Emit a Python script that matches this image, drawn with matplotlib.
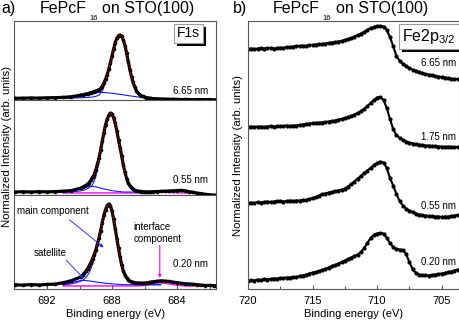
import numpy as np
import matplotlib
matplotlib.use('Agg')
import matplotlib.pyplot as plt
import matplotlib.patheffects as pe

plt.rcParams['font.family'] = ['Liberation Sans', 'DejaVu Sans']
plt.rcParams['mathtext.fontset'] = 'custom'
plt.rcParams['mathtext.rm'] = 'Liberation Sans'

# ---- F1s (panel a): energy grid, coarse tails and 0.1 eV steps over the peak
e_f1s = np.concatenate([np.linspace(694.0, 690.5, 8),
                        np.linspace(690.0, 685.5, 46),
                        np.linspace(685.25, 681.5, 16)])

f1s_665 = [0.0, 0.002, 0.005, 0.003, 0.008, 0.01, 0.015, 0.025,
           0.045, 0.05, 0.055, 0.06, 0.066, 0.072, 0.08, 0.089, 0.098, 0.107,
           0.116, 0.125, 0.135, 0.155, 0.19, 0.24, 0.30, 0.37, 0.46, 0.56,
           0.67, 0.78, 0.88, 0.95, 0.99, 1.0, 0.98, 0.92, 0.83, 0.71,
           0.58, 0.45, 0.34, 0.25, 0.18, 0.12, 0.08, 0.055, 0.04, 0.03,
           0.02, 0.012, 0.006, 0.002, 0.0, -0.005,
           -0.008, -0.01, -0.012, -0.015, -0.015, -0.018, -0.02, -0.018,
           -0.02, -0.022, -0.02, -0.02, -0.022, -0.02, -0.025, -0.02]
f1s_055 = [0.0, 0.003, 0.0, 0.004, 0.002, 0.005, 0.01, 0.018,
           0.045, 0.052, 0.062, 0.072, 0.085, 0.10, 0.12, 0.15, 0.185, 0.22,
           0.28, 0.35, 0.43, 0.53, 0.64, 0.75, 0.85, 0.92, 0.97, 1.0,
           0.99, 0.94, 0.87, 0.77, 0.66, 0.56, 0.45, 0.34, 0.25, 0.17,
           0.115, 0.08, 0.055, 0.035, 0.022, 0.015, 0.01, 0.008, 0.005, 0.004,
           0.003, 0.002, 0.0, 0.0, 0.002, 0.004,
           0.005, 0.008, 0.01, 0.012, 0.015, 0.018, 0.02, 0.015,
           0.005, -0.005, -0.015, -0.02, -0.03, -0.035, -0.04, -0.04]
f1s_020 = [0.0, -0.005, 0.002, -0.003, 0.003, 0.008, 0.025, 0.05,
           0.09, 0.1, 0.12, 0.145, 0.17, 0.2, 0.235, 0.275, 0.32, 0.37,
           0.43, 0.5, 0.58, 0.67, 0.77, 0.86, 0.93, 0.98, 1.0, 0.98,
           0.91, 0.81, 0.69, 0.57, 0.45, 0.34, 0.24, 0.17, 0.12, 0.085,
           0.06, 0.045, 0.035, 0.03, 0.025, 0.022, 0.02, 0.02, 0.018, 0.02,
           0.02, 0.022, 0.025, 0.028, 0.032, 0.036,
           0.042, 0.048, 0.045, 0.04, 0.032, 0.025, 0.018, 0.012,
           0.01, 0.005, 0.0, -0.005, -0.01, -0.008, -0.012, -0.01]

# fit components (blue), 691 -> 685 eV in 0.2 eV steps
e_fit = np.linspace(691.0, 685.0, 31)
main_665 = [0.0, 0.0, 0.002, 0.004, 0.006, 0.008, 0.01, 0.012, 0.015, 0.02,
            0.03, 0.05, 0.11, 0.25, 0.43, 0.66, 0.87, 0.99, 0.97, 0.82,
            0.57, 0.33, 0.17, 0.07, 0.03, 0.012, 0.004, 0.0, -0.005, -0.01,
            -0.012]
sat_665 = [0.0, 0.003, 0.008, 0.013, 0.019, 0.025, 0.033, 0.045, 0.058, 0.072,
           0.085, 0.095, 0.094, 0.09, 0.085, 0.079, 0.072, 0.065, 0.058, 0.05,
           0.042, 0.035, 0.028, 0.021, 0.014, 0.008, 0.002, -0.004, -0.008, -0.012,
           -0.015]
main_055 = [0.0, 0.0, 0.002, 0.004, 0.007, 0.012, 0.02, 0.033, 0.055, 0.09,
            0.19, 0.37, 0.6, 0.83, 0.97, 0.99, 0.87, 0.66, 0.45, 0.25,
            0.115, 0.055, 0.022, 0.01, 0.005, 0.003, 0.0, 0.0, 0.0, 0.0,
            0.0]
sat_055 = [0.0, 0.004, 0.01, 0.018, 0.028, 0.038, 0.05, 0.06, 0.068, 0.07,
           0.066, 0.055, 0.045, 0.035, 0.026, 0.018, 0.011, 0.006, 0.002, 0.0,
           0.0, 0.0, 0.0, 0.0, 0.0, 0.0, 0.0, 0.0, 0.0, 0.0,
           0.0]
main_020 = [0.0, 0.003, 0.008, 0.015, 0.025, 0.038, 0.055, 0.09, 0.15, 0.25,
            0.38, 0.55, 0.76, 0.92, 1.0, 0.91, 0.69, 0.45, 0.24, 0.12,
            0.06, 0.035, 0.02, 0.012, 0.008, 0.005, 0.003, 0.0, 0.0, 0.0,
            0.0]
sat_020 = [0.005, 0.012, 0.02, 0.03, 0.04, 0.048, 0.054, 0.052, 0.047, 0.041,
           0.035, 0.029, 0.024, 0.019, 0.015, 0.011, 0.008, 0.005, 0.002, 0.0,
           0.0, 0.0, 0.0, 0.0, 0.0, 0.0, 0.0, 0.0, 0.0, 0.0,
           0.0]

# interface component (magenta), 691 -> 682 eV in 0.5 eV steps
e_int = np.linspace(691.0, 682.0, 19)
int_055 = [-0.012, -0.012, -0.012, -0.012, -0.012, -0.012, -0.012, -0.012,
           -0.012, -0.012, -0.01, -0.005, -0.002, -0.006, -0.01, -0.012,
           -0.015, -0.022, -0.03]
int_020 = [-0.015, -0.015, -0.015, -0.015, -0.015, -0.015, -0.015, -0.015,
           -0.015, -0.015, -0.01, 0.01, 0.025, 0.01, -0.008, -0.015,
           -0.015, -0.015, -0.015]

labels_a = ['6.65 nm', '0.55 nm', '0.20 nm']
label_y_a = [0.12, 0.156, 0.26]

# ---- Fe2p3/2 (panel b), offset spectra, 0.25 eV steps
e_fe = np.linspace(720.0, 703.75, 66)
fe_665 = [240, 240.5, 240, 240.5, 241, 240.5, 241, 241, 240.5, 241,
          241.5, 241, 242, 242, 242.5, 243, 243, 243.5, 243, 244,
          244, 244.5, 245, 245, 245.5, 246, 246.5, 247, 247.5, 248,
          249, 250, 251, 252.5, 254, 255.5, 257, 259, 261, 262,
          263, 263, 262.5, 259, 252, 243, 233, 228, 225, 223,
          221, 219.5, 218, 217, 216, 215, 214.5, 214, 213, 212.5,
          212, 211.5, 211, 210.5, 210, 210]
fe_175 = [162, 162.5, 162, 162.5, 162.5, 162, 162.5, 163, 162.5, 163,
          163, 163, 163.5, 163, 163.5, 163.5, 164, 164.5, 165, 165.5,
          166, 166, 166.5, 166.5, 167, 167.5, 168, 168.5, 169.5, 170,
          171, 172, 173, 174.5, 176, 178, 180, 183, 186, 189,
          191.5, 192, 189, 181, 170, 160, 154, 151, 149, 147.5,
          146.5, 145.5, 145, 144.5, 144, 143.5, 143.5, 143, 143, 142.5,
          142.5, 142, 142.5, 142, 142, 142]
fe_055 = [86, 86.5, 86, 87, 86.5, 87, 87.5, 87, 87.5, 88,
          88, 87.5, 88, 88.5, 88, 88.5, 88.5, 89, 89, 90,
          91, 92, 93.5, 95, 95.5, 96.5, 97, 98, 98.5, 99.5,
          100.5, 102.5, 105, 107.5, 110.5, 113, 116, 118.5, 121, 124,
          126, 127.5, 126.5, 121, 111, 103.5, 95, 88, 83.5, 80.5,
          78.5, 77, 75.5, 74.5, 74, 73.5, 73, 73, 72.5, 72.5,
          72, 72.5, 72.5, 73, 73.5, 74]
fe_020 = [8.5, 9, 8.5, 9.5, 9, 10, 9.5, 10, 10.5, 10.5,
          11, 11, 11.5, 11.5, 12, 12, 13, 13.5, 14.5, 15.5,
          16.5, 17, 18, 19, 20, 21.5, 23, 24, 25.5, 27,
          28.5, 30, 31.5, 33, 34.5, 37, 41, 46, 51, 54,
          55.5, 56, 55.5, 51, 46, 42, 40, 39.5, 39, 35,
          27, 20, 16, 14.5, 14, 14, 13.5, 14, 14.5, 15,
          15.5, 16, 17, 17.5, 18.5, 19.5]
labels_b = ['6.65 nm', '1.75 nm', '0.55 nm', '0.20 nm']
label_y_b = [226, 151.5, 83, 27.3]

W, H = 460.0, 324.0
fig = plt.figure(figsize=(4.6, 3.24), dpi=100)
spine_col = '#555555'


def style_axes(ax):
    for s in ax.spines.values():
        s.set_color(spine_col)
        s.set_linewidth(0.8)
    ax.set_yticks([])


def boxed_label(ax, x, y, s, size):
    # white box with a solid black drop shadow to the lower right
    t = ax.text(x, y, s, transform=ax.transAxes, fontsize=size, ha='center', va='center',
                zorder=9, bbox=dict(boxstyle='square,pad=0.2', fc='white', ec='#999999', lw=0.8))
    t.get_bbox_patch().set_path_effects([
        pe.SimplePatchShadow(offset=(2.2, -2.2), shadow_rgbFace='black', alpha=1.0),
        pe.Normal()])


# panel a: three stacked boxes (py 21-100, 100-195, 195-289)
left_a, width_a = 14.5 / W, 201.5 / W
ax1 = fig.add_axes([left_a, 1 - 100 / H, width_a, 79 / H])
ax2 = fig.add_axes([left_a, 1 - 195 / H, width_a, 95 / H])
ax3 = fig.add_axes([left_a, 1 - 289 / H, width_a, 94 / H])
ylims_a = [(-0.027, 1.221), (-0.038, 1.165), (-0.053, 1.111)]

spectra = [(ax1, f1s_665, main_665, sat_665, None),
           (ax2, f1s_055, main_055, sat_055, int_055),
           (ax3, f1s_020, main_020, sat_020, int_020)]
for i, (ax, data, main, sat, inter) in enumerate(spectra):
    data = np.array(data)
    if inter is not None:
        ax.plot(e_int, inter, color='#ff00ff', lw=1.0, zorder=1)
    ax.plot(e_fit, sat, color='#1a1aff', lw=0.8, zorder=2)
    ax.plot(e_fit, main, color='#1a1aff', lw=0.8, zorder=2)
    ax.plot(e_f1s, data, color='black', lw=2.3, marker='o', ms=1.6, zorder=3)
    peak = data > 0.15
    ax.plot(e_f1s[peak], data[peak], color='red', lw=0.8, ls=':', zorder=4)
    ax.set_xlim(694.0, 681.6)
    ax.set_ylim(*ylims_a[i])
    ax.text(682.1, label_y_a[i], labels_a[i], ha='right', va='center', fontsize=7, zorder=5)
    style_axes(ax)
    if ax is not ax3:
        ax.set_xticks([])

ax3.set_xticks([692, 688, 684])
ax3.set_xticks([690, 686, 682], minor=True)
ax3.tick_params(which='both', direction='in', top=False, labelsize=8, pad=5,
                width=0.8, color=spine_col)
ax3.tick_params(which='major', length=3)
ax3.tick_params(which='minor', length=2)
ax3.set_xlabel('Binding energy (eV)', fontsize=8, labelpad=2)

boxed_label(ax1, 0.8635, 0.844, 'F1s', 10)

ann = dict(fontsize=7, zorder=6)
ax3.text(693.83, 0.91, 'main component', ha='left', va='center', **ann)
ax3.annotate('', xy=(688.39, 0.44), xytext=(690.75, 0.826), zorder=6,
             arrowprops=dict(arrowstyle='-|>', color='#1a1aff', lw=0.6, mutation_scale=5))
ax3.text(692.84, 0.39, 'satellite', ha='left', va='center', **ann)
ax3.annotate('', xy=(689.62, 0.054), xytext=(690.95, 0.33), zorder=6,
             arrowprops=dict(arrowstyle='-|>', color='#1a1aff', lw=0.6, mutation_scale=5))
ax3.text(686.69, 0.64, 'interface\ncomponent', ha='left', va='center', linespacing=1.2, **ann)
ax3.annotate('', xy=(685.06, 0.05), xytext=(685.06, 0.52), zorder=6,
             arrowprops=dict(arrowstyle='-|>', color='#ff00ff', lw=0.8, mutation_scale=4))

# panel b
axb = fig.add_axes([248 / W, 1 - 289 / H, 211 / W, 268 / H])
for vals, lab, ly in zip([fe_665, fe_175, fe_055, fe_020], labels_b, label_y_b):
    axb.plot(e_fe, vals, color='black', lw=1.5, marker='o', ms=2.0)
    axb.text(703.85, ly, lab, ha='right', va='center', fontsize=7)
axb.set_xlim(720.0, 703.65)
axb.set_ylim(0, 268)
style_axes(axb)
axb.set_xticks([720, 715, 710, 705])
axb.set_xticks([717.5, 712.5, 707.5], minor=True)
axb.tick_params(which='both', direction='in', top=False, labelsize=8, pad=5,
                width=0.8, color=spine_col)
axb.tick_params(which='major', length=3)
axb.tick_params(which='minor', length=2)
axb.set_xlabel('Binding energy (eV)', fontsize=8, labelpad=2)
boxed_label(axb, 0.857, 0.942, r'Fe2p$_{\mathrm{3/2}}$', 11.5)

# titles and y labels
for dx, tag in [(0.0, 'a)'), (233.5, 'b)')]:
    fig.text((1 + dx - (2 if tag == 'b)' else 0)) / W, 1 - 13.3 / H, tag, fontsize=11.5, va='baseline')
    fig.text((86.5 + dx) / W, 1 - 13.3 / H, 'FePcF', fontsize=11.5, ha='right', va='baseline')
    fig.text((89 + dx) / W, 1 - 20 / H, '16', fontsize=5.5, ha='left', va='baseline')
    fig.text((102.3 + dx) / W, 1 - 13.3 / H, 'on STO(100)', fontsize=11.5, ha='left', va='baseline')

fig.text(7 / W, 1 - 146.5 / H, 'Normalized Intensity (arb. units)', rotation=90,
         ha='center', va='center', fontsize=8.2)
fig.text(238 / W, 1 - 156 / H, 'Normalized Intensity (arb. units)', rotation=90,
         ha='center', va='center', fontsize=8.2)

fig.savefig('out.png', dpi=100)
